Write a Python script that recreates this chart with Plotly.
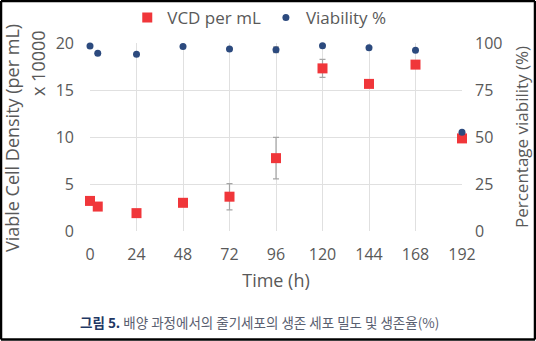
import plotly.graph_objects as go

time_vcd = [0, 4, 24, 48, 72, 96, 120, 144, 168, 192]
vcd = [3.2, 2.6, 1.9, 3.0, 3.65, 7.75, 17.3, 15.65, 17.7, 9.85]
vcd_err = [0, 0, 0, 0, 1.4, 2.2, 0.95, 0, 0, 0]

time_via = [0, 4, 24, 48, 72, 96, 120, 144, 168, 192]
viability = [98.4, 94.5, 94.0, 98.2, 96.8, 96.4, 98.6, 97.5, 96.1, 52.5]
via_err = [0, 0, 0, 0, 0, 1.5, 0, 0, 0, 0]

x_ticks = [0, 24, 48, 72, 96, 120, 144, 168, 192]
left_ticks = [0, 5, 10, 15, 20]
right_ticks = [0, 25, 50, 75, 100]

FONT = "Open Sans"
GRAY = "#595959"
GRID = "#e0e0e0"

fig = go.Figure()
fig.add_trace(go.Scatter(
    x=time_vcd, y=vcd, mode="markers", name="VCD per mL",
    marker=dict(symbol="square", size=10, color="#f0363a"),
    error_y=dict(type="data", array=vcd_err, color="#a6a6a6", thickness=1.2, width=3),
    cliponaxis=False, yaxis="y"))
fig.add_trace(go.Scatter(
    x=time_via, y=viability, mode="markers", name="Viability %",
    marker=dict(symbol="circle", size=7, color="#2c4a7e"),
    error_y=dict(type="data", array=via_err, color="#a6a6a6", thickness=1.2, width=3),
    cliponaxis=False, yaxis="y2"))

fig.update_layout(
    width=536, height=341,
    margin=dict(l=90, r=74, t=43, b=110, autoexpand=False),
    paper_bgcolor="white", plot_bgcolor="white",
    font=dict(family=FONT, color=GRAY, size=16),
    showlegend=True,
    legend=dict(orientation="h", x=0.455, xanchor="center", y=(231 - 0) / 188, yanchor="top",
                font=dict(size=17, color=GRAY), bgcolor="rgba(0,0,0,0)",
                traceorder="normal", itemwidth=30, tracegroupgap=0),
    xaxis=dict(range=[0, 192], tickvals=x_ticks, showgrid=True, gridcolor=GRID,
               zeroline=False, showline=False, ticks="", ticklabelstandoff=12,
               tickfont=dict(size=16, color=GRAY),
               title=dict(text="Time (h)", font=dict(size=18, color=GRAY), standoff=10)),
    yaxis=dict(range=[0, 20], tickvals=left_ticks, showgrid=True, gridcolor=GRID,
               zeroline=False, showline=False, ticks="", ticklabelstandoff=15,
               tickfont=dict(size=16, color=GRAY)),
    yaxis2=dict(range=[0, 100], tickvals=right_ticks, overlaying="y", side="right",
                showgrid=False, zeroline=False, showline=False, ticks="",
                ticklabelstandoff=12, tickfont=dict(size=16, color=GRAY)),
)

# left axis titles
fig.add_annotation(text="Viable Cell Density (per mL)", xref="paper", yref="paper",
                   x=(12 - 90) / 372, y=(231 - 138) / 188, textangle=-90,
                   showarrow=False, font=dict(size=18, color=GRAY),
                   xanchor="center", yanchor="middle")
fig.add_annotation(text="x 10000", xref="paper", yref="paper",
                   x=(38 - 90) / 372, y=(231 - 63) / 188, textangle=-90,
                   showarrow=False, font=dict(size=18, color=GRAY),
                   xanchor="center", yanchor="middle")
fig.add_annotation(text="Percentage viability (%)", xref="paper", yref="paper",
                   x=(521 - 90) / 372, y=(231 - 137) / 188, textangle=-90,
                   showarrow=False, font=dict(size=17, color=GRAY),
                   xanchor="center", yanchor="middle")

# caption
fig.add_annotation(
    text="<b><span style='color:#1f3864'>그림 5.</span></b> 배양 과정에서의 줄기세포의 생존 세포 밀도 및 생존율(%)",
    xref="paper", yref="paper", x=(259 - 90) / 372, y=(231 - 322) / 188,
    showarrow=False, font=dict(family="Noto Sans CJK KR", size=13.5, color="#5a6070"),
    xanchor="center", yanchor="middle")

# frame (four edges)
fx0, fx1 = (1 - 90) / 372, (535 - 90) / 372
fy0, fy1 = (231 - 339.5) / 188, (231 - 1) / 188
for (a, b, c, d) in [(fx0, fy0, fx1, fy0), (fx0, fy1, fx1, fy1),
                     (fx0, fy0, fx0, fy1), (fx1, fy0, fx1, fy1)]:
    fig.add_shape(type="line", xref="paper", yref="paper", x0=a, y0=b, x1=c, y1=d,
                  line=dict(color="black", width=2.5), layer="above")

fig.write_html("out.html")
